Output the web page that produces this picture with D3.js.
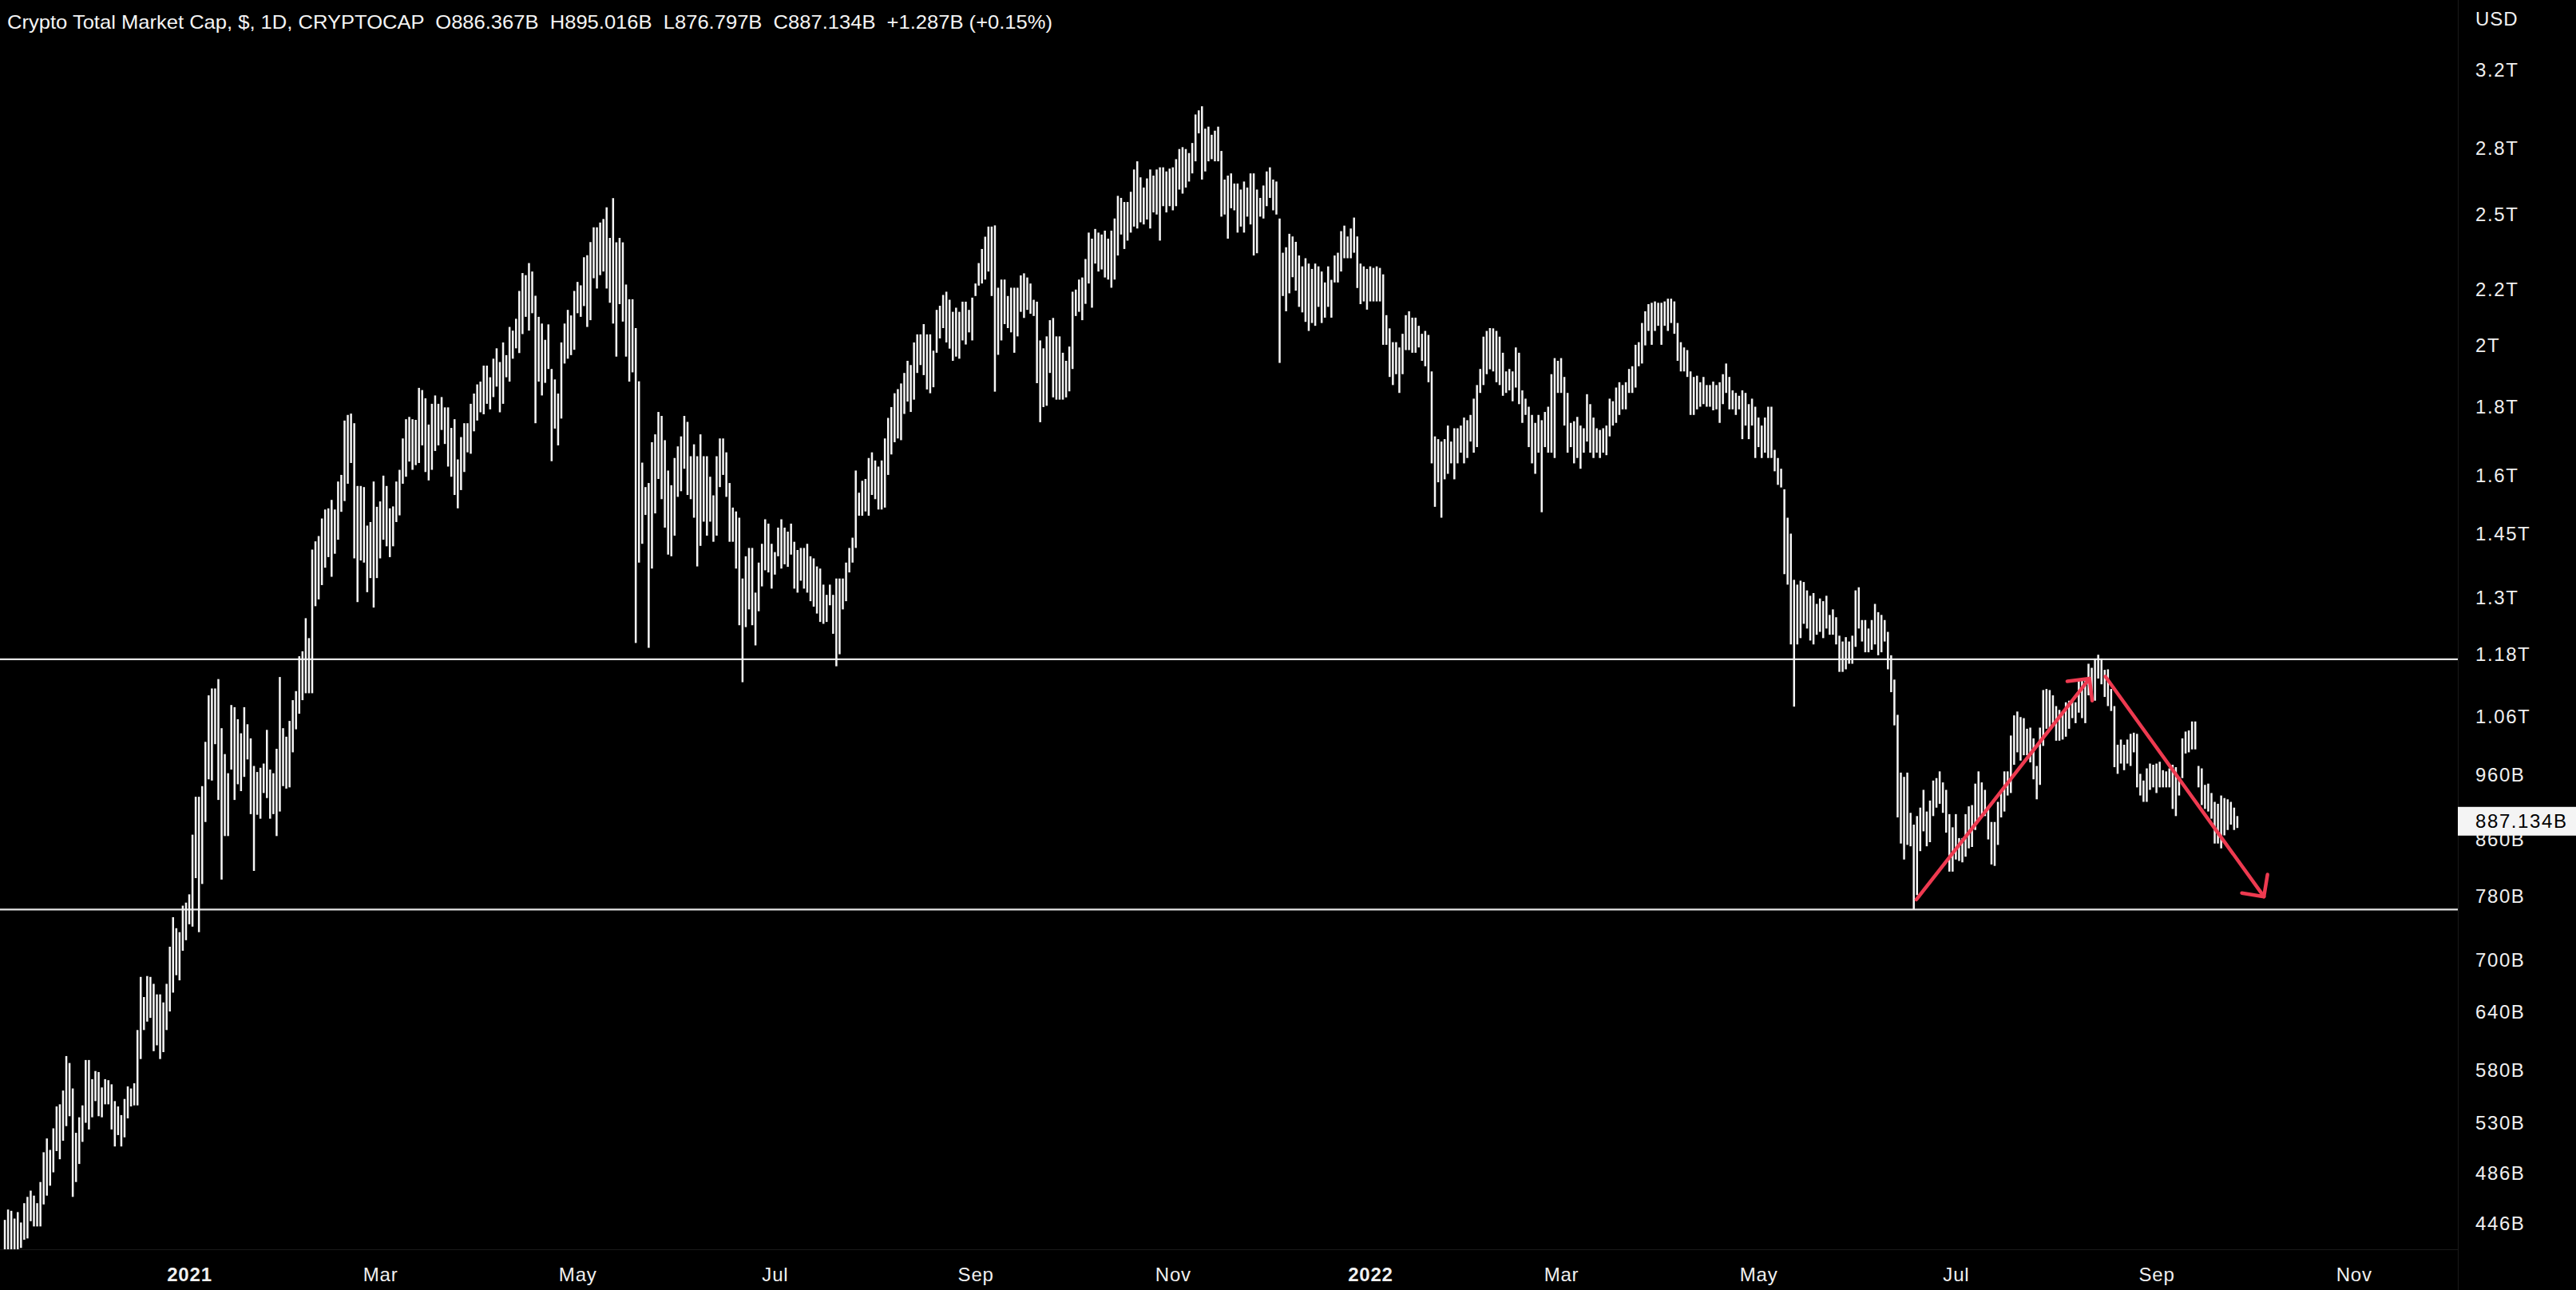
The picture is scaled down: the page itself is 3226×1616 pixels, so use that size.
<!DOCTYPE html>
<html>
<head>
<meta charset="utf-8">
<script src="https://cdn.jsdelivr.net/npm/d3@7"></script>
<style>
  html, body { margin: 0; padding: 0; background: #000; }
  svg { display: block; }
</style>
</head>
<body>
<script>
// ---------------- DATA ----------------
const seriesTitle = "Crypto Total Market Cap, $, 1D, CRYPTOCAP";
const ohlcText = ["O886.367B", "H895.016B", "L876.797B", "C887.134B", "+1.287B (+0.15%)"];
const firstBarDate = "2020-11-05";           // one bar per day from here
const lastClose = 887.134;                    // billions
const lastCloseLabel = "887.134B";
const currencyLabel = "USD";

// Daily highs (billions USD)
const highs = [
449,457,456,450,455,447,462,467,472,468,
462,479,504,516,506,525,545,547,560,594,
587,562,521,535,546,590,590,571,579,578,
563,571,570,566,550,545,537,552,564,562,
567,621,680,657,681,680,672,660,660,651,
672,716,753,739,734,768,772,783,
867,925,925,942,1016,1100,1113,1113,1131,1040,
995,963,1082,1078,1056,1031,1078,1047,1022,975,
965,972,979,1037,969,963,1004,1135,1040,1025,
1053,1091,1108,1176,1186,1255,1213,1411,1431,1444,
1488,1511,1514,1536,1511,1585,1603,1759,1776,1780,
1751,1573,1573,1570,1470,1479,1585,1518,1532,1601,
1573,1514,1519,1585,1617,1706,1763,1770,1763,1761,
1860,1853,1827,1747,1810,1836,1810,1831,1799,1799,
1737,1763,1646,1710,1751,1751,1810,1842,1871,1880,
1932,1932,1894,1955,1990,1944,2010,1967,2064,2051,
2093,2195,2263,2255,2302,2269,2177,2100,2076,2019,
2073,1921,1887,1842,2010,2076,2125,2105,2195,2229,
2216,2325,2333,2386,2447,2447,2467,2482,2532,2403,
2572,2385,2403,2385,2219,2164,2164,2060,
1881,1637,1570,1581,1695,1718,1785,1773,1701,1615,
1575,1650,1683,1712,1773,1755,1655,1689,1655,1718,
1655,1655,1598,1548,1655,1706,1706,1666,1581,1516,
1506,1490,1343,1395,1415,1415,1311,1380,1425,1486,
1475,1425,1405,1465,1486,1465,1455,1475,1430,1410,
1415,1415,1425,1395,1390,1371,1366,1329,1306,1329,
1306,1343,1343,1343,1380,1415,1440,1615,1555,1587,
1592,1650,1666,1643,1626,1643,1706,1767,1800,1843,
1856,1874,1908,1948,1934,2010,2038,2038,2074,2038,
2038,1982,2125,2140,2180,2192,2162,2118,2133,2118,
2155,2155,2125,2170,2223,2302,2358,2408,2450,2450,
2455,2207,2238,2238,2176,2207,2207,2207,2254,2262,
2246,2223,2162,2155,2017,1990,2031,2088,2096,2031,
2031,1975,1948,1996,2192,2200,2238,2246,2318,2425,
2400,2440,2425,2417,2433,2400,2433,2484,2582,2573,
2555,2555,2600,2701,2739,2665,2619,2660,2701,2673,
2701,2711,2711,2692,2705,2711,2749,2797,2806,2797,
2778,2826,2967,2988,3009,2896,2906,2866,2886,2906,
2788,2655,2673,2683,2637,2637,2610,2646,2619,2683,
2683,2610,2573,2628,2692,2711,2655,2646,2484,
2343,2365,2420,2409,2387,2332,2289,2321,2300,2279,
2300,2289,2269,2227,2289,2237,2332,2343,2431,2454,
2409,2442,2488,2409,2300,2289,2279,2289,2283,2289,
2283,2258,2106,2059,2011,2011,1993,2040,2106,2120,
2097,2097,2068,2040,2050,2036,1913,1712,1704,1697,
1704,1744,1697,1736,1736,1744,1768,1760,1776,1826,
1869,1921,2030,2050,2060,2059,2050,2030,1975,1913,
1921,1913,1993,1975,1852,1826,1801,1776,1752,1776,
1760,1785,1801,1904,1957,1948,1957,1895,1844,1752,
1757,1770,1744,1736,1840,1809,1768,1736,1731,1736,
1744,1826,1818,1861,1878,1869,1878,1921,1930,2002,
2011,2078,2120,2146,2151,2156,2151,2151,2156,2166,
2166,2156,2078,2011,1993,1984,1913,1895,1899,1878,
1895,1869,1869,1880,1869,1878,1904,1939,1895,1852,
1844,1835,1852,1844,1809,1826,1801,1768,1744,1768,
1801,1801,1673,1650,1620,1564,1490,1450,1340,1329,
1338,1335,1316,1304,1310,1286,1298,1292,1304,1262,
1274,1257,1218,1206,1215,1206,1218,1316,1323,1251,
1251,1233,1251,1286,1268,1262,1251,1226,1178,1130,1064,
964,957,964,900,882,895,908,936,902,919,
951,955,966,948,936,898,878,898,862,862,
898,910,912,946,966,948,936,908,886,886,
917,936,966,966,1027,1063,1070,1060,1058,1039,
1041,1022,975,1041,1110,1112,1110,1100,1080,1073,
1070,1087,1090,1090,1087,1129,1129,1132,1161,1153,
1171,1179,1171,1149,1150,1112,1080,1011,1020,1011,
1020,1030,1032,1030,962,951,971,979,977,979,
982,968,966,971,977,973,957,1022,1034,1036,
1052,1052,975,971,944,946,931,917,914,927,
923,921,917,908,895
];

// Daily lows (billions USD)
const lows = [
420,420,420,420,420,428,434,435,448,444,
444,444,461,468,476,487,505,498,514,527,
536,467,479,494,513,530,524,535,550,536,
535,547,547,524,509,519,509,517,534,545,
546,546,591,621,630,634,599,605,591,598,
621,641,662,682,676,711,724,744,
741,805,734,797,886,953,951,1012,920,803,
865,865,969,920,945,934,957,986,898,815,
897,891,931,923,891,898,865,902,942,938,
940,998,1038,1066,1091,1104,1104,1104,1281,1296,
1328,1368,1393,1347,1401,1435,1505,1533,1579,1636,
1390,1290,1385,1380,1312,1344,1278,1344,1390,1435,
1419,1393,1419,1479,1496,1579,1598,1640,1617,1630,
1636,1686,1611,1588,1617,1670,1686,1731,1690,1626,
1598,1549,1514,1562,1611,1666,1662,1727,1759,1784,
1778,1810,1793,1831,1864,1784,1810,1894,1880,1955,
1990,1974,2039,2100,2051,2113,1751,1880,1836,1876,
1921,1641,1735,1686,1765,1939,1955,1967,1985,2113,
2100,2139,2064,2088,2243,2204,2255,2269,2204,2151,
2076,1962,2146,2083,1962,1880,1910,1203,
1380,1425,1497,1193,1366,1501,1592,1538,1465,1399,
1395,1445,1544,1559,1620,1549,1538,1490,1371,1420,
1480,1445,1480,1430,1445,1570,1603,1544,1430,1430,
1366,1240,1125,1236,1274,1240,1198,1270,1325,1362,
1357,1320,1352,1395,1366,1376,1370,1399,1320,1311,
1338,1320,1311,1292,1280,1265,1247,1243,1247,1283,
1222,1156,1180,1274,1292,1357,1380,1415,1495,1495,
1506,1495,1549,1538,1511,1511,1516,1603,1660,1695,
1706,1701,1779,1817,1785,1823,1908,1934,1901,1855,
1843,1862,1975,2024,2060,2010,1989,1948,1962,1955,
2017,2003,2045,2017,2176,2215,2223,2238,2269,2176,
1848,1968,2017,2074,2060,2045,1975,2031,2118,2096,
2125,2111,2103,1875,1754,1800,1804,1908,1830,1823,
1823,1823,1830,1849,1921,2103,2118,2088,2147,2223,
2133,2300,2269,2277,2246,2238,2207,2238,2332,2417,
2358,2392,2425,2450,2442,2468,2459,2480,2442,2510,
2501,2392,2537,2510,2537,2519,2537,2610,2592,2619,
2646,2683,2739,2873,2655,2692,2739,2749,2739,2739,
2492,2501,2400,2528,2519,2425,2450,2425,2492,2459,
2332,2341,2492,2484,2537,2573,2519,2501,1941,
2176,2120,2186,2247,2196,2136,2116,2082,2050,2078,
2068,2136,2078,2097,2136,2097,2227,2227,2269,2321,
2321,2321,2343,2206,2146,2156,2126,2156,2156,2156,
2156,2002,2002,1895,1869,1904,1844,1904,1984,1984,
1975,1975,1993,1948,1930,1878,1635,1518,1583,1490,
1591,1606,1635,1591,1635,1665,1635,1650,1697,1665,
1681,1844,1869,1904,1920,1913,1878,1869,1835,1844,
1852,1818,1861,1809,1752,1776,1681,1635,1606,1665,
1504,1681,1665,1665,1650,1844,1844,1744,1665,1681,
1635,1650,1620,1665,1697,1665,1650,1665,1650,1665,
1658,1712,1744,1752,1776,1793,1793,1844,1844,1861,
1930,1939,2000,2050,2002,2050,2068,2002,2068,2050,
2078,2040,1948,1913,1913,1895,1776,1776,1793,1801,
1809,1801,1801,1790,1793,1752,1809,1844,1793,1793,
1776,1793,1704,1744,1704,1744,1650,1681,1650,1665,
1650,1650,1613,1576,1569,1353,1329,1200,1079,1200,
1213,1243,1233,1208,1200,1220,1226,1213,1233,1220,
1220,1200,1145,1145,1150,1161,1161,1195,1233,1206,
1184,1184,1189,1200,1178,1184,1206,1150,1106,1045,893,
854,831,852,850,763,782,843,872,850,856,
895,908,914,900,870,814,814,831,829,827,
835,847,849,874,888,897,895,860,824,822,
852,893,902,927,931,977,998,984,993,993,
981,953,921,944,1009,1039,1039,1049,1018,1018,
1020,1025,1039,1058,1049,1068,1058,1049,1100,1097,
1090,1132,1121,1097,1080,1071,973,962,979,968,
979,975,998,940,927,917,917,936,940,931,
940,940,940,940,906,895,927,955,996,998,
1003,1003,940,912,906,902,891,854,854,847,
866,874,882,874,877
];

// Price-axis ticks
const yTickValues = [3200,2800,2500,2200,2000,1800,1600,1450,1300,1180,1060,960,860,780,700,640,580,530,486,446];
const yTickLabels = ["3.2T","2.8T","2.5T","2.2T","2T","1.8T","1.6T","1.45T","1.3T","1.18T","1.06T","960B","860B","780B","700B","640B","580B","530B","486B","446B"];

// Time-axis ticks
const xTickDates  = ["2021-01-01","2021-03-01","2021-05-01","2021-07-01","2021-09-01","2021-11-01","2022-01-01","2022-03-01","2022-05-01","2022-07-01","2022-09-01","2022-11-01"];
const xTickLabels = ["2021","Mar","May","Jul","Sep","Nov","2022","Mar","May","Jul","Sep","Nov"];

// Horizontal levels drawn on the chart (billions)
const levelValues = [1170, 763];

// Red trend arrows: [startDate, startValue, endDate, endValue]
const arrowUp   = ["2022-06-18T19:00Z", 776, "2022-08-11T07:00Z", 1132];
const arrowDown = ["2022-08-16T05:00Z", 1136, "2022-10-04T05:00Z", 780];

// ---------------- LAYOUT ----------------
const W = 3226, H = 1616;
const plotW = 3078, plotH = 1565;
const DAY = 864e5;
const jan2021 = Date.UTC(2021, 0, 1);

const t0 = Date.parse(firstBarDate + "T00:00Z");
const bars = highs.map((h, i) => ({ date: new Date(t0 + i * DAY), high: h, low: lows[i] }));

const x = d3.scaleUtc()
  .domain([new Date(jan2021 - 58.49 * DAY), new Date(jan2021 + 701.14 * DAY)])
  .range([0, plotW]);
const y = d3.scaleLog()
  .domain([3608, 427])
  .range([0, plotH]);

const svg = d3.select("body").append("svg")
  .attr("width", W).attr("height", H)
  .style("background", "#000");

svg.append("rect").attr("width", W).attr("height", H).attr("fill", "#000");

svg.append("defs").append("clipPath").attr("id", "plotclip")
  .append("rect").attr("x", 0).attr("y", 0).attr("width", plotW).attr("height", plotH);

// separators
svg.append("line").attr("x1", plotW + 0.5).attr("x2", plotW + 0.5).attr("y1", 0).attr("y2", H)
  .attr("stroke", "#1a1a1a").attr("stroke-width", 1);
svg.append("line").attr("x1", 0).attr("x2", plotW).attr("y1", plotH + 0.5).attr("y2", plotH + 0.5)
  .attr("stroke", "#1a1a1a").attr("stroke-width", 1);

const plot = svg.append("g").attr("clip-path", "url(#plotclip)");

// level lines
plot.selectAll("line.level").data(levelValues).enter().append("line")
  .attr("class", "level")
  .attr("x1", 0).attr("x2", plotW)
  .attr("y1", d => y(d)).attr("y2", d => y(d))
  .attr("stroke", "#e4e4e4").attr("stroke-width", 2.2);

// OHLC bars (high-low)
plot.selectAll("rect.bar").data(bars).enter().append("rect")
  .attr("class", "bar")
  .attr("x", d => x(d.date) - 1.25)
  .attr("width", 2.5)
  .attr("y", d => y(d.high))
  .attr("height", d => Math.max(1, y(d.low) - y(d.high)))
  .attr("fill", "#f6f6f6");

// arrows
function drawArrow(a) {
  const x1 = x(new Date(Date.parse(a[0]))), y1 = y(a[1]);
  const x2 = x(new Date(Date.parse(a[2]))), y2 = y(a[3]);
  const ang = Math.atan2(y2 - y1, x2 - x1);
  const back = ang + Math.PI, L = 28, spread = Math.PI / 4;
  const h1 = [x2 + L * Math.cos(back + spread), y2 + L * Math.sin(back + spread)];
  const h2 = [x2 + L * Math.cos(back - spread), y2 + L * Math.sin(back - spread)];
  const g = plot.append("g").attr("fill", "none").attr("stroke", "#ee3a50")
    .attr("stroke-width", 4.5).attr("stroke-linecap", "round").attr("stroke-linejoin", "round");
  g.append("line").attr("x1", x1).attr("y1", y1).attr("x2", x2).attr("y2", y2);
  g.append("polyline").attr("points", [h1, [x2, y2], h2].map(p => p.join(",")).join(" "));
}
drawArrow(arrowUp);
drawArrow(arrowDown);

const axisFont = "'Liberation Sans', Arial, sans-serif";

// Y axis (right)
const yAxis = d3.axisRight(y)
  .tickValues(yTickValues)
  .tickFormat((d, i) => yTickLabels[i])
  .tickSize(0).tickPadding(22);
const gy = svg.append("g").attr("transform", `translate(${plotW},0)`).call(yAxis);
gy.select(".domain").remove();
gy.selectAll("text")
  .attr("fill", "#f0f0f0")
  .style("font-family", axisFont)
  .style("font-size", "24px")
  .style("letter-spacing", "1.6px");

// X axis (bottom)
const xAxis = d3.axisBottom(x)
  .tickValues(xTickDates.map(s => new Date(Date.parse(s + "T00:00Z"))))
  .tickFormat((d, i) => xTickLabels[i])
  .tickSize(0).tickPadding(23);
const gx = svg.append("g").attr("transform", `translate(0,${plotH})`).call(xAxis);
gx.select(".domain").remove();
gx.selectAll("text")
  .attr("fill", "#f0f0f0")
  .style("font-family", axisFont)
  .style("font-size", "24px")
  .style("letter-spacing", "0.8px")
  .style("font-weight", (d, i) => /^\d{4}$/.test(xTickLabels[i]) ? "700" : "400");

// Last price label
const yc = y(lastClose);
svg.append("rect").attr("x", plotW).attr("y", yc - 18).attr("width", W - plotW).attr("height", 36)
  .attr("fill", "#f4f4f4");
svg.append("text").attr("x", plotW + 22).attr("y", yc).attr("dy", "0.35em")
  .attr("fill", "#000")
  .style("font-family", axisFont).style("font-size", "24px").style("letter-spacing", "1.6px")
  .text(lastCloseLabel);

// Currency label
svg.append("text").attr("x", 3100).attr("y", 32)
  .attr("fill", "#f0f0f0")
  .style("font-family", axisFont).style("font-size", "24px").style("letter-spacing", "1px")
  .text(currencyLabel);

// Title / legend
svg.append("text").attr("x", 9).attr("y", 36)
  .attr("fill", "#f4f4f4")
  .attr("textLength", 1309).attr("lengthAdjust", "spacingAndGlyphs")
  .style("font-family", axisFont).style("font-size", "24px")
  .style("white-space", "pre")
  .attr("xml:space", "preserve")
  .text(seriesTitle + "  " + ohlcText.join("  "));
</script>
</body>
</html>
